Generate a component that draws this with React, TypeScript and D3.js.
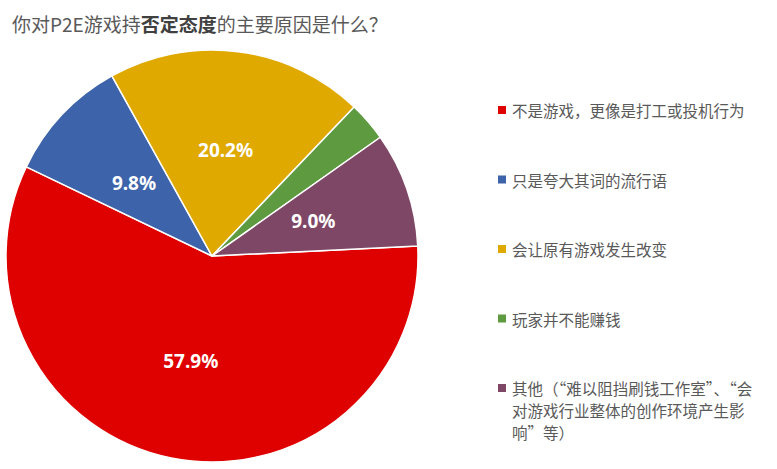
import React, { useEffect, useRef } from 'react';
import * as d3 from 'd3';

// chart data
const categories: string[] = [
  '不是游戏，更像是打工或投机行为',
  '只是夸大其词的流行语',
  '会让原有游戏发生改变',
  '玩家并不能赚钱',
  '其他（“难以阻挡刷钱工作室”、“会对游戏行业整体的创作环境产生影响”等）',
];
const values: number[] = [57.9, 9.8, 20.2, 3.1, 9.0];
const valueLabels: string[] = ['57.9%', '9.8%', '20.2%', '', '9.0%'];
// legend text as it wraps in the picture
const legendLines: string[][] = [
  ['不是游戏，更像是打工或投机行为'],
  ['只是夸大其词的流行语'],
  ['会让原有游戏发生改变'],
  ['玩家并不能赚钱'],
  ['其他（“难以阻挡刷钱工作室”、“会', '对游戏行业整体的创作环境产生影', '响”等）'],
];
const colors: string[] = ['#DF0000', '#3D63AA', '#E0A900', '#5E9A3F', '#7E4766'];

const W = 777;
const H = 469;

const App: React.FC = () => {
  const ref = useRef<SVGSVGElement | null>(null);

  useEffect(() => {
    if (!ref.current) return;
    const svg = d3.select(ref.current);
    svg.selectAll('*').remove();

    svg.append('rect').attr('width', W).attr('height', H).attr('fill', '#fff');

    // title
    const title = svg
      .append('text')
      .attr('x', 12)
      .attr('y', 32)
      .attr('font-family', '"Noto Sans CJK SC", "Noto Sans", sans-serif')
      .attr('font-size', 19)
      .attr('fill', '#595959');
    title.append('tspan').text('你对P2E游戏持');
    title.append('tspan').attr('font-weight', 'bold').attr('fill', '#404040').text('否定态度');
    title.append('tspan').text('的主要原因是什么？');

    // pie
    const cx = 212;
    const cy = 256;
    const radius = 206;
    const start = (87.2 * Math.PI) / 180;

    const pie = d3
      .pie<number>()
      .sort(null)
      .value((d) => d)
      .startAngle(start)
      .endAngle(start + Math.PI * 2);
    const arcs = pie(values);

    const arc = d3.arc<d3.PieArcDatum<number>>().innerRadius(0).outerRadius(radius);
    const labelArc = d3
      .arc<d3.PieArcDatum<number>>()
      .innerRadius(radius * 0.52)
      .outerRadius(radius * 0.52);

    const g = svg.append('g').attr('transform', `translate(${cx},${cy})`);

    g.selectAll('path.slice')
      .data(arcs)
      .enter()
      .append('path')
      .attr('class', 'slice')
      .attr('d', arc)
      .attr('fill', (d, i) => colors[i])
      .attr('stroke', '#fff')
      .attr('stroke-width', 1.5)
      .attr('stroke-linejoin', 'round');

    g.selectAll('text.val')
      .data(arcs)
      .enter()
      .append('text')
      .attr('class', 'val')
      .attr('transform', (d) => `translate(${labelArc.centroid(d)})`)
      .attr('text-anchor', 'middle')
      .attr('dominant-baseline', 'central')
      .attr('font-family', '"Noto Sans", "DejaVu Sans", sans-serif')
      .attr('font-weight', 'bold')
      .attr('font-size', 19)
      .attr('fill', '#fff')
      .text((d, i) => valueLabels[i]);

    // legend
    const legendY = d3
      .scaleLinear()
      .domain([0, categories.length - 1])
      .range([110, 388]);

    const legend = svg
      .append('g')
      .attr('font-family', '"Noto Sans CJK SC", sans-serif')
      .attr('font-size', 15.5)
      .attr('fill', '#595959');

    categories.forEach((c, i) => {
      const y = legendY(i);
      const item = legend.append('g').attr('class', 'legend-item');
      item
        .append('rect')
        .attr('x', 498)
        .attr('y', y - 4)
        .attr('width', 8)
        .attr('height', 8)
        .attr('fill', colors[i]);
      legendLines[i].forEach((line, j) => {
        item
          .append('text')
          .attr('x', 512)
          .attr('y', y + j * 22)
          .attr('dominant-baseline', 'central')
          .text(line);
      });
    });
  }, []);

  return (
    <svg
      ref={ref}
      width={W}
      height={H}
      style={{ position: 'absolute', left: 0, top: 0 }}
    ></svg>
  );
};

export default App;
